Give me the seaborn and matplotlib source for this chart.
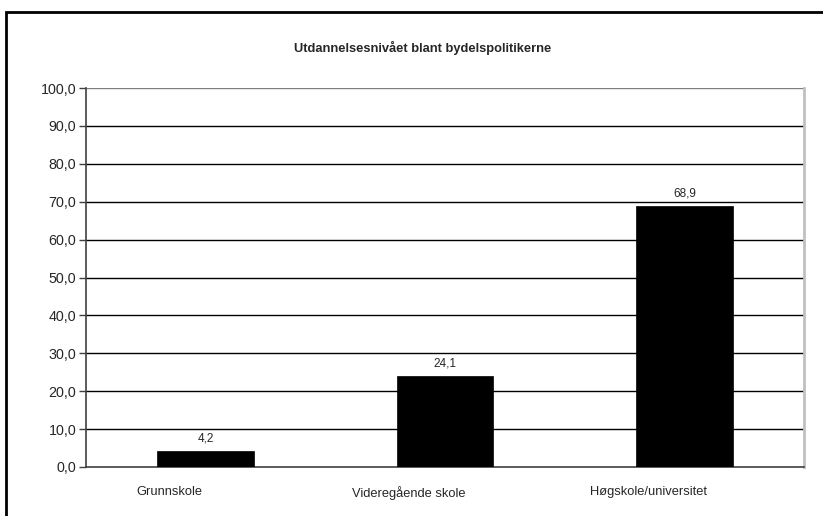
import numpy as np
import pandas as pd
import matplotlib
matplotlib.use("Agg")
import matplotlib.pyplot as plt
import matplotlib.transforms as mtransforms
import seaborn as sns

categories = ["Grunnskole", "Videregående skole", "Høgskole/universitet"]
values = [4.2, 24.1, 68.9]
title = "Utdannelsesnivået blant bydelspolitikerne"

df = pd.DataFrame({"kategori": categories, "prosent": values})

sns.set_style("white")
plt.rcParams["font.family"] = ["Liberation Sans", "DejaVu Sans"]

fig = plt.figure(figsize=(8.23, 5.16), dpi=100)
ax = fig.add_axes([86/823, 1-467/516, (804-86)/823, (467-88)/516])

# outer chart frame (top and left only visible)
fig.patches.append(plt.Rectangle((6/823, -0.1), 1.2, 1.1-12/516, transform=fig.transFigure,
                                 fill=False, edgecolor="black", linewidth=2))

sns.barplot(data=df, x="kategori", y="prosent", color="black", width=0.405,
            saturation=1, edgecolor="black", linewidth=0.5, ax=ax, zorder=3)

ax.set_ylim(0, 100)
ax.set_xlim(-0.5, 2.5)
yt = np.arange(0, 101, 10)
ax.set_yticks(yt)
ax.set_yticklabels([f"{v:.1f}".replace(".", ",") for v in yt], fontsize=10.3)
for v in yt[1:-1]:
    ax.axhline(v, color="black", linewidth=1, zorder=1)
ax.axhline(100, color="#808080", linewidth=1, zorder=1)

ax.set_xticks([0, 1, 2])
ax.set_xticklabels(categories, fontsize=9.3)
ax.tick_params(axis="x", which="major", length=0, pad=14)
ax.set_xticks([-0.5, 0.5, 1.5, 2.5], minor=True)
ax.tick_params(axis="x", which="minor", length=4, color="#404040", width=1)
ax.tick_params(axis="y", length=5, color="#404040", width=1, pad=2, left=True)
shift = mtransforms.ScaledTranslation(-36/100, 0, fig.dpi_scale_trans)
for lab in ax.get_xticklabels():
    lab.set_transform(lab.get_transform() + shift)

for side in ["left", "bottom"]:
    ax.spines[side].set_visible(True)
    ax.spines[side].set_color("#404040")
    ax.spines[side].set_linewidth(1.2)
ax.spines["top"].set_visible(False)
ax.spines["right"].set_color("#c0c0c0")
ax.spines["right"].set_linewidth(2)

for i, v in enumerate(values):
    ax.annotate(f"{v:.1f}".replace(".", ","), (i, v), xytext=(0, 4.5), textcoords="offset points",
                ha="center", va="bottom", fontsize=8.5)

ax.set_xlabel("")
ax.set_ylabel("")
fig.text(423/823, 1-48/516, title, ha="center", va="center", fontsize=9.3, fontweight="bold")

fig.savefig("out.png", dpi=100)
